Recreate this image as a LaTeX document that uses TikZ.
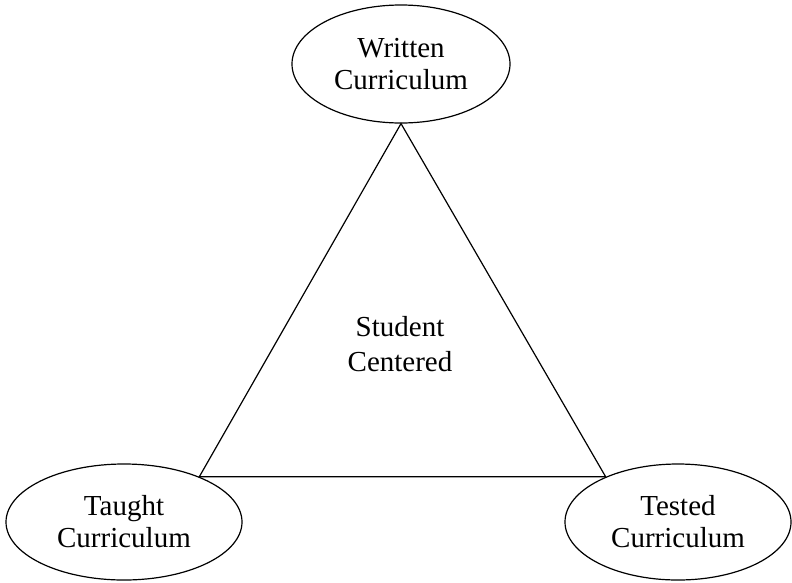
\documentclass[tikz,border=0pt]{standalone}
\usepackage{fontspec}
\setmainfont{Liberation Serif}
\usetikzlibrary{shapes.geometric,positioning}

\begin{document}
\begin{tikzpicture}[x=1pt,y=1pt]
   \tikzset{curriculum node/.style={ellipse, draw, line width=1.2pt,
   		text centered, align=center, inner sep=0pt,
   		font=\fontsize{29}{32}\selectfont}, }
   \tikzset{center node/.style={text centered, align=center,
   		font=\fontsize{29}{35}\selectfont}, }
   \tikzset{linea/.style={line width=1.2pt, line join=miter},}
\useasboundingbox (0,0) rectangle (792,-582);

\node[curriculum node, minimum width=218pt, minimum height=118pt] (written) at (401,-64) {Written\\Curriculum};
\node[curriculum node, minimum width=236pt, minimum height=116pt] (taught) at (124,-522) {Taught\\Curriculum};
\node[curriculum node, minimum width=226pt, minimum height=116pt] (tested) at (678,-522) {Tested\\Curriculum};
\node[center node] (student) at (400,-344) {Student\\Centered};
% triangle between the three curricula
\draw[linea] (written.south) -- (taught.31) -- (tested.148) -- cycle;
\end{tikzpicture}
\end{document}
